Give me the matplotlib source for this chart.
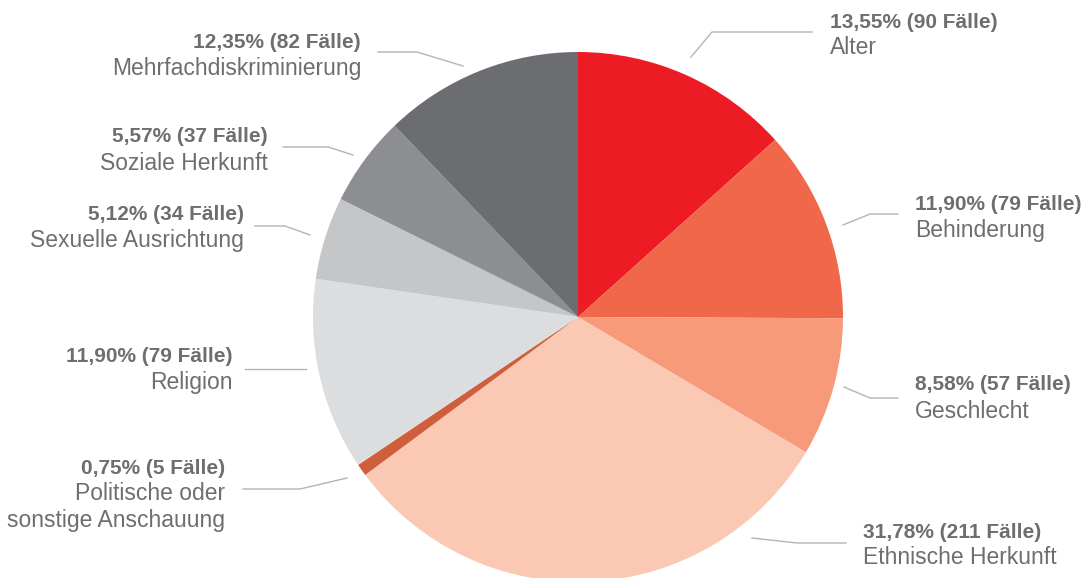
import matplotlib
matplotlib.use("Agg")
import matplotlib.pyplot as plt

plt.rcParams['font.family'] = ['Liberation Sans', 'DejaVu Sans']

# Data (clockwise from 12 o'clock)
categories = ['Alter', 'Behinderung', 'Geschlecht', 'Ethnische Herkunft',
              'Politische oder\nsonstige Anschauung', 'Religion',
              'Sexuelle Ausrichtung', 'Soziale Herkunft', 'Mehrfachdiskriminierung']
percent = [13.55, 11.90, 8.58, 31.78, 0.75, 11.90, 5.12, 5.57, 12.35]
cases = [90, 79, 57, 211, 5, 79, 34, 37, 82]
colors = ['#ED1C24', '#F0674A', '#F69A7A', '#FBC9B3', '#CF5F3C',
          '#DCDDDF', '#C5C6C8', '#8D8E92', '#6C6D71']

# label layout in image pixels (x, y of bold line, side)
label_pos = [(830, 22, 'L'), (915, 205, 'L'), (915, 385, 'L'), (863, 532, 'L'),
             (225, 468, 'R'), (233, 357, 'R'), (244, 215, 'R'), (268, 137, 'R'),
             (361, 43, 'R')]
# leader lines: start near wedge, elbow, end (image pixels)
leaders = [[(691, 57), (712, 32), (812, 32)],
           [(843, 225), (870, 214), (898, 214)],
           [(844, 387), (870, 398), (898, 398)],
           [(752, 538), (797, 543), (846, 543)],
           [(347, 478), (300, 489), (243, 489)],
           [(306, 369), (276, 369), (245, 369)],
           [(310, 235), (285, 226), (255, 226)],
           [(353, 155), (328, 147), (283, 147)],
           [(463, 66), (417, 52), (378, 52)]]

W, H = 1081, 578
cx, cy, r = 578, 317, 265
txt = '#6D6E71'
line_c = '#B3B4B6'

fig = plt.figure(figsize=(W / 100, H / 100), dpi=100)
ax = fig.add_axes([0, 0, 1, 1])

ax.pie(percent, colors=colors, startangle=90, counterclock=False,
       center=(cx, H - cy), radius=r, wedgeprops=dict(linewidth=0))
ax.set_xlim(0, W)
ax.set_ylim(0, H)
ax.set_aspect('equal')
ax.axis('off')

for i, cat in enumerate(categories):
    xs = [p[0] for p in leaders[i]]
    ys = [H - p[1] for p in leaders[i]]
    ax.plot(xs, ys, color=line_c, lw=1)
    lx, ly, side = label_pos[i]
    ha = 'left' if side == 'L' else 'right'
    head = f"{percent[i]:.2f}".replace('.', ',') + f"% ({cases[i]} Fälle)"
    ax.text(lx, H - ly, head, ha=ha, va='center', fontsize=15,
            fontweight='bold', color=txt)
    for k, line in enumerate(cat.split('\n')):
        ax.text(lx, H - ly - 26 * (k + 1), line, ha=ha, va='center',
                fontsize=16.5, color=txt)

fig.savefig('out.png', dpi=100)
